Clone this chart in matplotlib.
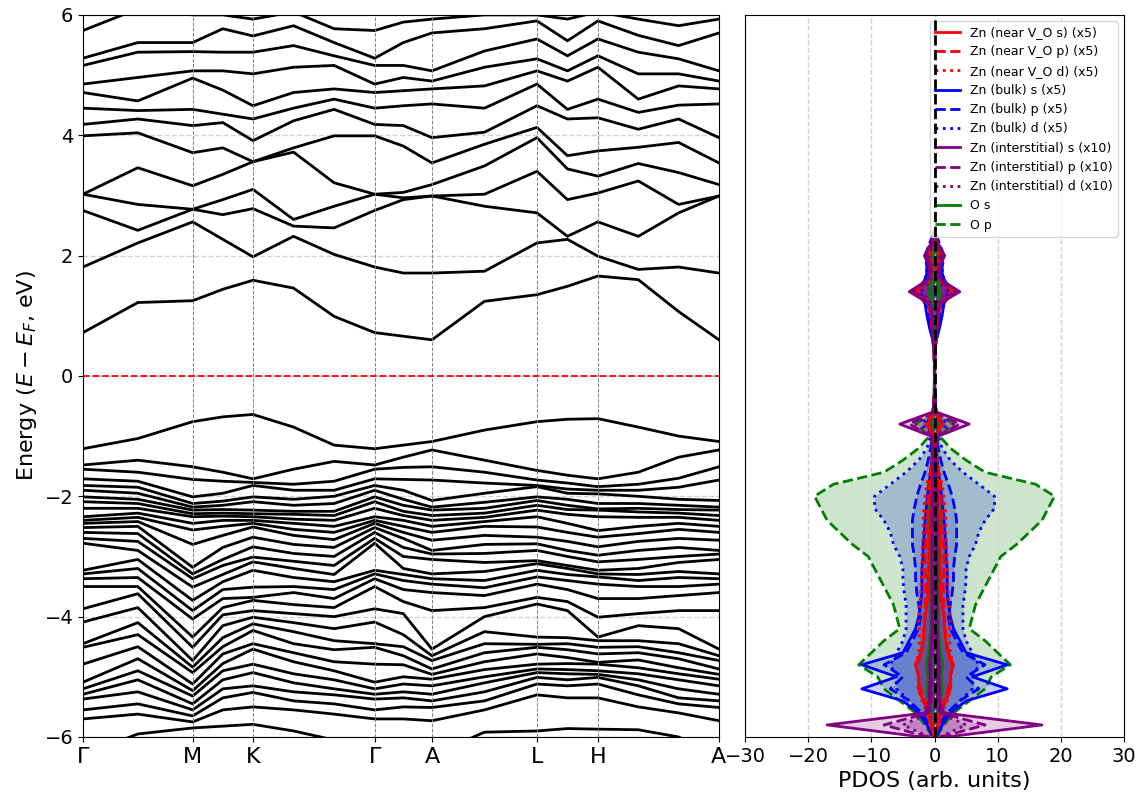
import numpy as np
import matplotlib.pyplot as plt

# high-symmetry path (relative k distances) and labels
hsym_labels = ["Γ", "M", "K", "Γ", "A", "L", "H", "A"]
hsym_k = [0, 109.7, 170, 291.7, 349, 454, 515, 636]

# conduction bands, energies read at each k point (eV)
cb_G = [0.72, 1.81, 2.75, 3.02, 3.02, 3.99, 4.18, 4.45, 4.71, 4.85, 5.16, 5.28, 5.74]
cb_GM = [1.22, 2.21, 2.42, 2.85, 3.46, 4.04, 4.27, 4.41, 4.57, 4.96, 5.38, 5.54, 6.1]
cb_M = [1.25, 2.56, 2.77, 2.77, 3.16, 3.71, 4.16, 4.43, 4.95, 5.07, 5.39, 5.54, 6.0]
cb_MK = [1.44, 2.27, 2.68, 2.93, 3.35, 3.79, 4.21, 4.35, 4.75, 5.07, 5.38, 5.77, 6.0]
cb_K = [1.59, 1.98, 2.78, 3.1, 3.56, 3.56, 3.91, 4.27, 4.49, 5.02, 5.38, 5.65, 5.93]
cb_KG1 = [1.46, 2.32, 2.49, 2.6, 3.72, 3.79, 4.24, 4.45, 4.71, 5.13, 5.49, 5.82, 6.05]
cb_KG2 = [0.99, 2.02, 2.46, 2.82, 3.21, 3.99, 4.43, 4.6, 4.77, 5.16, 5.32, 5.54, 5.77]
cb_GA = [0.66, 1.71, 2.93, 2.96, 3.05, 3.82, 4.16, 4.49, 4.74, 4.96, 5.16, 5.54, 5.88]
cb_A = [0.6, 1.71, 2.99, 2.99, 3.18, 3.54, 3.96, 4.52, 4.77, 4.9, 5.07, 5.7, 5.93]
cb_AL = [1.24, 1.74, 2.82, 3.02, 3.49, 3.85, 4.05, 4.45, 4.82, 5.13, 5.4, 5.77, 6.0]
cb_L = [1.35, 2.21, 2.71, 3.4, 3.96, 4.13, 4.49, 4.85, 5.07, 5.27, 5.6, 5.9, 6.0]
cb_LH = [1.49, 2.27, 2.32, 2.93, 3.44, 3.66, 4.27, 4.43, 4.9, 5.07, 5.32, 5.57, 5.93]
cb_H = [1.66, 1.99, 2.56, 3.04, 3.32, 3.74, 4.29, 4.6, 5.13, 5.32, 5.6, 5.9, 6.05]
cb_HA1 = [1.6, 1.77, 2.32, 3.24, 3.53, 3.8, 4.1, 4.38, 4.6, 5.02, 5.38, 5.66, 5.93]
cb_HA2 = [1.07, 1.81, 2.71, 2.85, 3.38, 3.88, 4.27, 4.5, 4.82, 5.02, 5.27, 5.49, 5.82]

# valence bands
vb_G = [-1.21, -1.48, -1.55, -1.71, -1.82, -1.9, -2.01, -2.09, -2.2, -2.34, -2.4, -2.45, -2.52, -2.6, -2.7, -2.78,
        -3.23, -3.29, -3.37, -3.5, -3.87, -4.09, -4.45, -4.51, -4.79, -5.09, -5.2, -5.29, -5.37, -5.55, -5.7, -6.3]
vb_GM = [-1.04, -1.4, -1.6, -1.75, -1.85, -1.95, -2.05, -2.12, -2.2, -2.28, -2.35, -2.42, -2.5, -2.62, -2.75, -2.9,
         -3.05, -3.2, -3.35, -3.5, -3.62, -3.85, -4.1, -4.3, -4.5, -4.7, -4.9, -5.05, -5.25, -5.45, -5.62, -5.95]
vb_M = [-0.76, -1.51, -1.72, -2.01, -2.12, -2.18, -2.23, -2.29, -2.34, -2.45, -2.56, -2.8, -3.18, -3.29, -3.37, -3.51,
        -3.73, -3.9, -4.04, -4.34, -4.51, -4.73, -4.84, -4.93, -5.12, -5.23, -5.32, -5.45, -5.55, -5.65, -5.75, -5.85]
vb_MK = [-0.68, -1.6, -1.75, -1.95, -2.08, -2.15, -2.22, -2.28, -2.33, -2.4, -2.5, -2.65, -2.85, -3.05, -3.15, -3.3,
         -3.42, -3.55, -3.7, -3.85, -3.97, -4.15, -4.35, -4.5, -4.62, -4.78, -4.9, -5.05, -5.2, -5.35, -5.55, -5.82]
vb_K = [-0.64, -1.71, -1.77, -1.82, -2.01, -2.09, -2.23, -2.29, -2.34, -2.4, -2.45, -2.51, -2.68, -2.84, -3.01, -3.09,
        -3.23, -3.51, -3.68, -3.73, -3.9, -4.01, -4.12, -4.23, -4.45, -4.54, -4.79, -4.93, -5.15, -5.26, -5.5, -5.79]
vb_KG1 = [-0.85, -1.55, -1.8, -1.9, -2.05, -2.15, -2.25, -2.3, -2.38, -2.45, -2.55, -2.65, -2.8, -2.95, -3.08, -3.2,
          -3.35, -3.5, -3.6, -3.8, -3.95, -4.1, -4.25, -4.45, -4.6, -4.75, -4.95, -5.1, -5.25, -5.4, -5.55, -5.9]
vb_KG2 = [-1.15, -1.42, -1.75, -1.9, -2.0, -2.12, -2.25, -2.32, -2.4, -2.5, -2.6, -2.72, -2.85, -3.0, -3.15, -3.3,
          -3.42, -3.55, -3.7, -3.85, -4.0, -4.2, -4.4, -4.55, -4.75, -4.9, -5.05, -5.2, -5.3, -5.45, -5.62, -6.05]
vb_GA = [-1.15, -1.35, -1.52, -1.72, -1.9, -2.05, -2.15, -2.25, -2.32, -2.4, -2.5, -2.6, -2.7, -2.85, -3.0, -3.2,
         -3.3, -3.4, -3.55, -3.75, -3.95, -4.3, -4.5, -4.65, -4.8, -5.0, -5.12, -5.25, -5.35, -5.5, -5.7, -6.3]
vb_A = [-1.09, -1.23, -1.51, -1.73, -2.07, -2.18, -2.23, -2.32, -2.4, -2.5, -2.6, -2.73, -2.9, -2.96, -3.05, -3.29,
        -3.37, -3.46, -3.6, -3.9, -4.54, -4.65, -4.73, -4.87, -4.96, -5.04, -5.15, -5.29, -5.4, -5.51, -5.73, -6.3]
vb_AL = [-0.9, -1.4, -1.6, -1.78, -1.95, -2.1, -2.2, -2.28, -2.35, -2.42, -2.5, -2.65, -2.8, -2.95, -3.1, -3.25,
         -3.4, -3.52, -3.65, -3.85, -4.0, -4.25, -4.45, -4.6, -4.75, -4.88, -5.0, -5.1, -5.25, -5.4, -5.55, -5.92]
vb_L = [-0.76, -1.57, -1.73, -1.82, -1.84, -2.01, -2.07, -2.15, -2.23, -2.34, -2.51, -2.68, -2.79, -2.9, -3.07, -3.12,
        -3.23, -3.34, -3.46, -3.68, -3.79, -4.34, -4.46, -4.51, -4.62, -4.79, -4.87, -4.93, -5.01, -5.12, -5.3, -5.9]
vb_LH = [-0.72, -1.65, -1.78, -1.88, -1.95, -2.05, -2.15, -2.22, -2.3, -2.45, -2.6, -2.75, -2.9, -3.0, -3.15, -3.2,
         -3.3, -3.4, -3.55, -3.75, -3.9, -4.35, -4.45, -4.55, -4.68, -4.78, -4.88, -4.95, -5.05, -5.15, -5.35, -5.86]
vb_H = [-0.71, -1.71, -1.84, -1.9, -1.96, -2.12, -2.21, -2.23, -2.34, -2.57, -2.68, -2.84, -2.98, -3.09, -3.23, -3.29,
        -3.34, -3.46, -3.7, -4.01, -4.34, -4.4, -4.51, -4.62, -4.76, -4.79, -4.9, -4.96, -5.01, -5.12, -5.35, -5.87]
vb_HA1 = [-0.85, -1.6, -1.8, -1.9, -2.0, -2.12, -2.2, -2.26, -2.35, -2.5, -2.62, -2.75, -2.9, -3.05, -3.2, -3.3,
          -3.4, -3.5, -3.7, -3.95, -4.15, -4.4, -4.5, -4.6, -4.72, -4.85, -4.95, -5.05, -5.15, -5.3, -5.5, -5.88]
vb_HA2 = [-1.0, -1.35, -1.7, -1.85, -2.05, -2.15, -2.22, -2.28, -2.35, -2.45, -2.55, -2.7, -2.85, -3.0, -3.1, -3.25,
          -3.35, -3.5, -3.65, -3.9, -4.2, -4.45, -4.6, -4.7, -4.85, -4.95, -5.05, -5.2, -5.35, -5.45, -5.6, -6.0]

# PDOS (half widths, already scaled), on an energy grid
pdos_e = [-6.0, -5.8, -5.6, -5.4, -5.2, -5.0, -4.8, -4.6, -4.4, -4.2, -4.0, -3.8, -3.6, -3.4, -3.2, -3.0,
          -2.8, -2.6, -2.4, -2.2, -2.0, -1.8, -1.6, -1.4, -1.2, -1.0, -0.8, -0.6, -0.4, -0.2, 0.0,
          0.2, 0.4, 0.6, 0.8, 1.0, 1.2, 1.4, 1.6, 1.8, 2.0, 2.2, 2.4]
vo_s = [0.1, 0.5, 1.0, 1.8, 2.5, 2.5, 3.0, 2.2, 1.8, 1.6, 1.5, 1.2, 1.0, 1.0, 0.9, 0.9, 0.9, 0.8, 0.7, 0.6, 0.6,
        0.5, 0.4, 0.3, 0.2, 0.2, 1.0, 0.2, 0.05, 0.02, 0.02, 0.02, 0.05, 0.2, 0.4, 0.6, 1.0, 3.5, 1.0, 0.5, 1.0, 0.5, 0.0]
vo_p = [0.1, 0.4, 0.9, 1.5, 2.2, 2.5, 2.8, 2.0, 1.8, 1.7, 1.6, 1.5, 1.4, 1.4, 1.5, 1.5, 1.4, 1.3, 1.2, 1.1, 1.0,
        0.8, 0.6, 0.4, 0.3, 0.2, 1.2, 0.2, 0.05, 0.02, 0.02, 0.02, 0.05, 0.2, 0.4, 0.6, 0.9, 3.0, 1.0, 0.6, 1.1, 0.5, 0.0]
vo_d = [0.1, 0.6, 1.2, 2.0, 2.6, 2.6, 3.0, 2.5, 2.4, 2.4, 2.5, 2.3, 2.2, 2.1, 2.0, 2.0, 1.9, 1.8, 1.8, 1.7, 1.5,
        1.2, 0.8, 0.5, 0.3, 0.2, 1.4, 0.2, 0.05, 0.02, 0.02, 0.02, 0.05, 0.1, 0.2, 0.3, 0.5, 2.5, 0.6, 0.3, 0.6, 0.3, 0.0]
bulk_s = [0.3, 1.2, 2.5, 5.0, 11.5, 6.0, 11.5, 5.0, 4.0, 3.0, 2.5, 2.2, 2.0, 2.0, 2.0, 1.8, 1.8, 1.6, 1.5, 1.3, 1.1,
          0.9, 0.6, 0.4, 0.3, 0.2, 1.0, 0.2, 0.05, 0.02, 0.02, 0.02, 0.05, 0.3, 0.8, 1.2, 1.5, 2.2, 1.5, 1.0, 1.3, 0.6, 0.0]
bulk_p = [0.2, 0.8, 2.0, 4.0, 7.0, 5.0, 8.0, 4.5, 3.5, 2.5, 2.2, 2.5, 2.8, 3.0, 3.0, 3.2, 3.5, 3.5, 3.5, 3.2, 2.8,
          2.2, 1.5, 1.0, 0.6, 0.3, 1.2, 0.2, 0.05, 0.02, 0.02, 0.02, 0.05, 0.2, 0.5, 1.0, 1.4, 3.0, 1.5, 1.2, 1.5, 0.8, 0.0]
bulk_d = [0.2, 1.0, 2.5, 4.0, 6.0, 6.0, 7.0, 6.0, 5.0, 4.5, 4.5, 4.5, 4.8, 5.0, 5.0, 5.5, 6.5, 7.0, 8.0, 9.5, 9.5,
          7.0, 4.5, 2.5, 1.2, 0.6, 2.0, 0.3, 0.05, 0.02, 0.02, 0.02, 0.05, 0.3, 0.6, 0.8, 1.0, 2.5, 1.2, 1.0, 1.2, 0.8, 0.0]
int_s = [2.0, 17.0, 1.5, 0.8, 0.8, 0.7, 0.8, 0.6, 0.5, 0.4, 0.4, 0.4, 0.4, 0.4, 0.4, 0.4, 0.4, 0.4, 0.4, 0.4, 0.4,
         0.3, 0.3, 0.2, 0.3, 0.6, 5.5, 0.3, 0.05, 0.02, 0.02, 0.02, 0.05, 0.2, 0.4, 0.5, 0.8, 4.0, 1.0, 0.8, 1.6, 0.5, 0.0]
int_p = [1.0, 8.0, 1.0, 0.5, 0.5, 0.5, 0.6, 0.4, 0.3, 0.3, 0.3, 0.3, 0.3, 0.3, 0.3, 0.3, 0.3, 0.3, 0.3, 0.3, 0.3,
         0.2, 0.2, 0.2, 0.3, 0.5, 4.0, 0.2, 0.05, 0.02, 0.02, 0.02, 0.05, 0.2, 0.3, 0.4, 0.6, 3.5, 0.8, 0.6, 1.2, 0.4, 0.0]
int_d = [0.8, 5.0, 0.8, 0.6, 0.6, 0.6, 0.7, 0.5, 0.5, 0.4, 0.4, 0.4, 0.4, 0.4, 0.4, 0.4, 0.4, 0.4, 0.4, 0.4, 0.4,
         0.3, 0.3, 0.2, 0.3, 0.5, 3.0, 0.2, 0.05, 0.02, 0.02, 0.02, 0.05, 0.1, 0.2, 0.3, 0.4, 2.0, 0.5, 0.4, 0.8, 0.3, 0.0]
o_s = [0.1, 0.5, 0.8, 1.0, 1.2, 1.0, 1.3, 0.9, 0.8, 0.6, 0.6, 0.6, 0.7, 0.7, 0.7, 0.8, 0.8, 0.9, 1.0, 1.1, 1.0,
       0.8, 0.6, 0.4, 0.3, 0.2, 0.8, 0.1, 0.05, 0.02, 0.02, 0.02, 0.05, 0.1, 0.2, 0.3, 0.4, 0.8, 0.4, 0.3, 0.4, 0.3, 0.0]
o_p = [0.3, 1.5, 3.0, 5.5, 8.0, 9.0, 12.0, 10.0, 8.0, 5.5, 6.0, 6.5, 7.5, 8.5, 9.5, 10.5, 13.0, 15.0, 17.0, 18.0, 19.0,
       16.0, 8.0, 5.0, 2.5, 0.8, 3.0, 0.3, 0.1, 0.05, 0.05, 0.05, 0.1, 0.2, 0.3, 0.4, 0.5, 0.9, 0.6, 0.4, 0.5, 0.4, 0.0]

# k points: each high-symmetry point plus a few in-between samples
h = hsym_k
kpts = [h[0], (h[0] + h[1]) / 2, h[1], (h[1] + h[2]) / 2, h[2],
        h[2] + (h[3] - h[2]) / 3, h[2] + 2 * (h[3] - h[2]) / 3, h[3],
        (h[3] + h[4]) / 2, h[4], (h[4] + h[5]) / 2, h[5], (h[5] + h[6]) / 2, h[6],
        h[6] + (h[7] - h[6]) / 3, h[6] + 2 * (h[7] - h[6]) / 3, h[7]]
cb = np.array([cb_G, cb_GM, cb_M, cb_MK, cb_K, cb_KG1, cb_KG2, cb_G, cb_GA, cb_A,
               cb_AL, cb_L, cb_LH, cb_H, cb_HA1, cb_HA2, cb_A]).T
vb = np.array([vb_G, vb_GM, vb_M, vb_MK, vb_K, vb_KG1, vb_KG2, vb_G, vb_GA, vb_A,
               vb_AL, vb_L, vb_LH, vb_H, vb_HA1, vb_HA2, vb_A]).T

fig = plt.figure(figsize=(11.43, 8.05), dpi=100)
ax1 = fig.add_axes([0.0726, 0.0845, 0.5564, 0.897])
ax2 = fig.add_axes([0.6518, 0.0845, 0.3316, 0.897])

for band in list(cb) + list(vb):
    ax1.plot(kpts, band, color="black", lw=2)
for k in hsym_k[1:-1]:
    ax1.axvline(k, color="gray", ls="--", lw=0.7)
ax1.axhline(0, color="red", ls="--", lw=1.3)
ax1.set_xlim(hsym_k[0], hsym_k[-1])
ax1.set_ylim(-6, 6)
ax1.set_xticks(hsym_k)
ax1.set_xticklabels(hsym_labels, fontsize=16)
ax1.set_yticks(range(-6, 7, 2))
ax1.tick_params(axis="y", labelsize=14)
ax1.grid(axis="y", ls="--", color="lightgray", lw=1)
ax1.set_ylabel("Energy ($E - E_F$, eV)", fontsize=16)

E = np.array(pdos_e)
series = [
    (vo_s, "red", "-", "Zn (near V_O s) (x5)", 4),
    (vo_p, "red", "--", "Zn (near V_O p) (x5)", 4),
    (vo_d, "red", ":", "Zn (near V_O d) (x5)", 4),
    (bulk_s, "blue", "-", "Zn (bulk) s (x5)", 3),
    (bulk_p, "blue", "--", "Zn (bulk) p (x5)", 3),
    (bulk_d, "blue", ":", "Zn (bulk) d (x5)", 3),
    (int_s, "purple", "-", "Zn (interstitial) s (x10)", 5),
    (int_p, "purple", "--", "Zn (interstitial) p (x10)", 5),
    (int_d, "purple", ":", "Zn (interstitial) d (x10)", 5),
    (o_s, "green", "-", "O s", 2),
    (o_p, "green", "--", "O p", 2),
]
for vals, c, ls, lab, z in series:
    v = np.array(vals)
    ax2.fill_betweenx(E, -v, v, color=c, alpha=0.2, lw=0, zorder=1)
    ax2.plot(v, E, color=c, ls=ls, lw=2, label=lab, zorder=z)
    ax2.plot(-v, E, color=c, ls=ls, lw=2, zorder=z)
ax2.axvline(0, color="black", ls="--", lw=2, zorder=6)
ax2.set_xlim(-30, 30)
ax2.set_ylim(-6, 6)
ax2.set_xticks(range(-30, 31, 10))
ax2.tick_params(axis="x", labelsize=14)
ax2.set_yticks([])
ax2.grid(axis="x", ls="--", color="lightgray", lw=1)
ax2.set_xlabel("PDOS (arb. units)", fontsize=16)
ax2.legend(loc="upper right", fontsize=9)

fig.savefig("out.png", dpi=100)
